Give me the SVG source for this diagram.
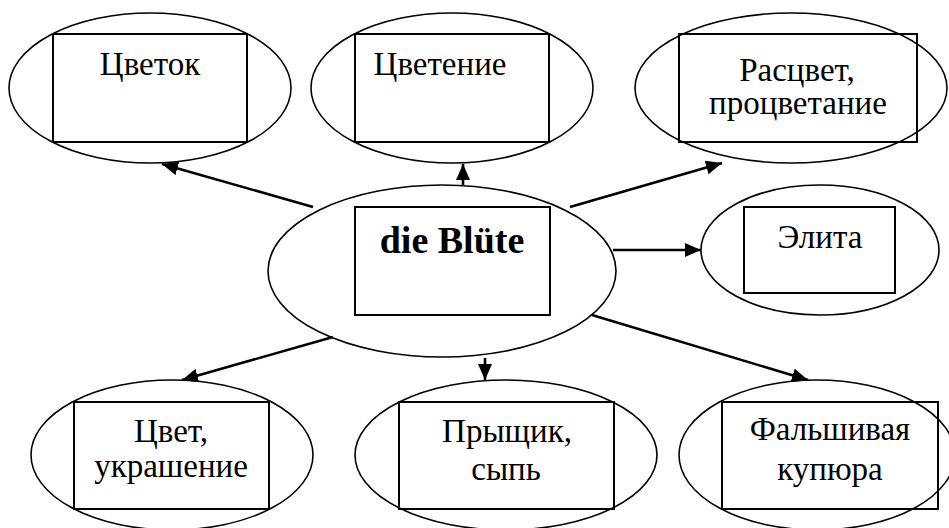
<svg xmlns="http://www.w3.org/2000/svg" width="949" height="528" viewBox="0 0 949 528">
  <style>
    .oval { fill: none; stroke: #000; stroke-width: 1.6; }
    .box { fill: none; stroke: #000; stroke-width: 2; }
    .lbl { font-family: "Liberation Serif", "DejaVu Serif", "Times New Roman", serif; font-size: 33px; fill: #000; text-anchor: middle; }
    .main { font-family: "Liberation Serif", "DejaVu Serif", "Times New Roman", serif; font-size: 38px; font-weight: bold; fill: #000; text-anchor: middle; }
    .edge { fill: none; stroke: #000; stroke-width: 2.6; marker-end: url(#head); }
  </style>
  <defs>
    <marker id="head" markerUnits="userSpaceOnUse" markerWidth="18" markerHeight="14" viewBox="0 0 18 14" refX="16" refY="7" orient="auto">
      <path d="M0,0 L16,7 L0,14 Z" fill="#000"/>
    </marker>
  </defs>
  <rect width="949" height="528" fill="#fff"/>

  <g id="node-tsvetok">
    <ellipse class="oval" cx="150" cy="88" rx="141" ry="75"/>
    <rect class="box" x="53" y="34" width="194" height="108"/>
    <text class="lbl" x="150" y="75">Цветок</text>
  </g>

  <g id="node-tsvetenie">
    <ellipse class="oval" cx="452" cy="88" rx="141" ry="75"/>
    <rect class="box" x="355" y="34" width="194" height="108"/>
    <text class="lbl" x="440" y="75">Цветение</text>
  </g>

  <g id="node-rastsvet">
    <ellipse class="oval" cx="791" cy="88" rx="156" ry="75"/>
    <rect class="box" x="679" y="34" width="238" height="108"/>
    <text class="lbl" x="797" y="81" font-size="32">Расцвет,</text>
    <text class="lbl" x="798" y="114" font-size="32">процветание</text>
  </g>

  <g id="node-bluete">
    <ellipse class="oval" cx="442" cy="271" rx="174" ry="86"/>
    <rect class="box" x="355" y="207" width="195" height="108"/>
    <text class="main" x="452" y="253">die Blüte</text>
  </g>

  <g id="node-elita">
    <ellipse class="oval" cx="820" cy="250" rx="119" ry="65"/>
    <rect class="box" x="744" y="207" width="151" height="86"/>
    <text class="lbl" x="820" y="248">Элита</text>
  </g>

  <g id="node-tsvet">
    <ellipse class="oval" cx="172" cy="455" rx="141" ry="75"/>
    <rect class="box" x="74" y="402" width="195" height="107"/>
    <text class="lbl" x="171" y="442">Цвет,</text>
    <text class="lbl" x="171" y="477">украшение</text>
  </g>

  <g id="node-pryshchik">
    <ellipse class="oval" cx="506" cy="455" rx="151" ry="75"/>
    <rect class="box" x="399" y="402" width="215" height="107"/>
    <text class="lbl" x="507" y="442">Прыщик,</text>
    <text class="lbl" x="506" y="480">сыпь</text>
  </g>

  <g id="node-kupyura">
    <ellipse class="oval" cx="817" cy="455" rx="138" ry="75"/>
    <rect class="box" x="722" y="402" width="216" height="107"/>
    <text class="lbl" x="830" y="440">Фальшивая</text>
    <text class="lbl" x="830" y="480">купюра</text>
  </g>

  <g id="connectors">
    <line class="edge" x1="313" y1="207" x2="162" y2="164"/>
    <line class="edge" x1="463" y1="185" x2="463" y2="164"/>
    <line class="edge" x1="570" y1="207" x2="722" y2="163"/>
    <line class="edge" x1="613" y1="250" x2="701" y2="250"/>
    <line class="edge" x1="333" y1="337" x2="182" y2="380"/>
    <line class="edge" x1="485" y1="358" x2="485" y2="380"/>
    <line class="edge" x1="592" y1="315" x2="808" y2="380"/>
  </g>
</svg>
